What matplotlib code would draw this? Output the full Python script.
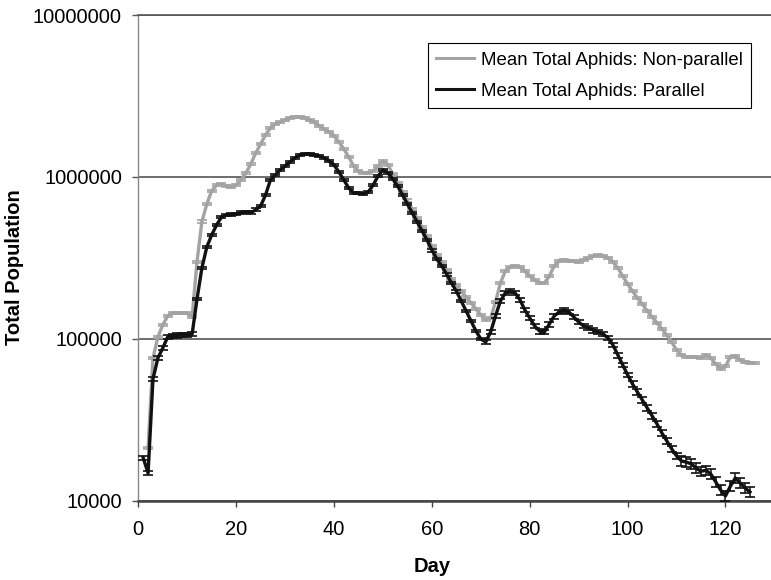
import matplotlib
matplotlib.use('Agg')
import matplotlib.pyplot as plt
from matplotlib.lines import Line2D
from matplotlib.ticker import FixedLocator, FuncFormatter, NullLocator

plt.rcParams['font.family'] = ['Liberation Sans', 'DejaVu Sans']

# ---------------- data ----------------
parallel_days = list(range(1, 126))
parallel_mean = [
    18400, 14800, 56500, 76000, 87700, 102600, 104000, 105000, 106000, 106000,
    107000, 176000, 274000, 369000, 438000, 505000, 565000, 582000, 585000, 590000,
    600000, 607000, 600000, 626000, 661000, 773000, 957000, 1028000, 1104000, 1167000,
    1236000, 1309000, 1365000, 1385000, 1385000, 1365000, 1345000, 1309000, 1254000, 1184000,
    1072000, 957000, 854000, 796000, 796000, 784000, 807000, 891000, 1013000, 1104000,
    1057000, 971000, 879000, 773000, 680000, 598000, 527000, 463000, 408000, 353000,
    311000, 282000, 251000, 221000, 197000, 171000, 148500, 128800, 111700, 99700,
    95500, 110200, 138300, 171000, 192000, 197000, 192000, 174000, 150600, 134500,
    120000, 111700, 110200, 123400, 138300, 146500, 150600, 146500, 136400, 127000,
    120000, 116700, 113300, 110200, 107100, 101200, 91600, 79400, 68900, 59800,
    52600, 46900, 41900, 37400, 33400, 29800, 26200, 23400, 20900, 18900,
    17600, 17300, 16900, 15900, 15200, 15400, 14600, 13060, 11650, 10700,
    12300, 13800, 12860, 11980, 11320,
]
parallel_err_pct = ([3] * 11 + [2] * 19 + [1.5] * 20 + [2] * 20 + [3] * 10 +
                    [3.5] * 20 + [4.5] * 10 + [7] * 15)

nonpar_days = list(range(2, 127))
nonpar_mean = [
    21200, 76100, 102600, 121700, 138300, 144300, 144300, 144300, 144300, 136400,
    300000, 530000, 680000, 820000, 890000, 905000, 879000, 866000, 891000, 957000,
    1057000, 1202000, 1405000, 1597000, 1814000, 2004000, 2122000, 2184000, 2245000, 2311000,
    2344000, 2344000, 2311000, 2245000, 2184000, 2062000, 1976000, 1893000, 1789000, 1643000,
    1487000, 1327000, 1167000, 1087000, 1062000, 1062000, 1087000, 1167000, 1254000, 1185000,
    1042000, 920000, 810000, 715000, 630000, 555000, 488000, 430000, 372000, 328000,
    298000, 266000, 234000, 215000, 197000, 181000, 166400, 152800, 140300, 130700,
    134400, 168700, 221000, 262000, 277000, 282000, 277000, 262000, 244000, 231000,
    221000, 221000, 244000, 282000, 302000, 307000, 302000, 302000, 298000, 307000,
    316000, 324000, 329000, 324000, 316000, 298000, 274000, 244000, 218000, 197000,
    178600, 164000, 148500, 136400, 125300, 115100, 105500, 95500, 85300, 79400,
    77200, 77200, 77200, 76100, 79400, 76100, 69900, 65100, 67900, 77200,
    78300, 74000, 71900, 70900, 70900,
]
nonpar_err_pct = [1.5] * 125

labels = ['Mean Total Aphids: Non-parallel', 'Mean Total Aphids: Parallel']
x_ticks = [0, 20, 40, 60, 80, 100, 120]
y_ticks = [10000, 100000, 1000000, 10000000]

# ---------------- plot ----------------
GRAY = '#A3A3A3'
BLACK = '#111111'

fig = plt.figure(figsize=(7.71, 5.80), dpi=100)
ax = fig.add_axes([138.3 / 771, 1 - 500.7 / 580, (771 - 138.3) / 771, 485.7 / 580])


def draw(days, vals, pct, color, z):
    err = [v * p / 100.0 for v, p in zip(vals, pct)]
    ax.errorbar(days, vals, yerr=[err, err], color=color, lw=2.4,
                elinewidth=1.1, capsize=3.8, capthick=1.2, zorder=z)


draw(nonpar_days, nonpar_mean, nonpar_err_pct, GRAY, 3)
draw(parallel_days, parallel_mean, parallel_err_pct, BLACK, 4)

ax.set_yscale('log')
ax.set_ylim(10000, 10000000)
ax.set_xlim(0, 129.3)
ax.xaxis.set_major_locator(FixedLocator(x_ticks))
ax.yaxis.set_major_locator(FixedLocator(y_ticks))
ax.yaxis.set_minor_locator(NullLocator())
ax.xaxis.set_minor_locator(NullLocator())
ax.yaxis.set_major_formatter(FuncFormatter(lambda v, p: f"{int(round(v))}"))

ax.set_axisbelow(True)
ax.yaxis.grid(True, color='#555555', lw=1.2)

ax.spines['right'].set_visible(False)
ax.spines['top'].set_color('#555555')
ax.spines['top'].set_linewidth(1.2)
ax.spines['left'].set_color('#888888')
ax.spines['left'].set_linewidth(1.0)
ax.spines['bottom'].set_color('#444444')
ax.spines['bottom'].set_linewidth(1.8)

ax.tick_params(axis='y', direction='out', length=4.3, width=1.0, color='#555555',
               labelsize=14.5, pad=7.5)
ax.tick_params(axis='x', direction='out', length=4.3, width=1.0, color='#444444',
               labelsize=14.5, pad=9.5)

ax.set_xlabel('Day', fontsize=14.5, fontweight='bold')
ax.set_ylabel('Total Population', fontsize=14.5, fontweight='bold')
ax.xaxis.set_label_coords((432 - 138.3) / 632.7, -(557 - 500.7) / 485.7)
ax.yaxis.set_label_coords((24 - 138.3) / 632.7, 0.48)

handles = [Line2D([], [], color=GRAY, lw=2.2), Line2D([], [], color=BLACK, lw=2.2)]
leg = fig.legend(handles, labels, loc='upper right',
                 bbox_to_anchor=(751 / 771, 1 - 43.3 / 580), fontsize=13.4,
                 frameon=True, fancybox=False, edgecolor='black', framealpha=1,
                 handlelength=2.0, handletextpad=0.38, labelspacing=0.75,
                 borderpad=0.45, borderaxespad=0)
leg.get_frame().set_linewidth(0.8)

fig.savefig('out.png', dpi=100)
